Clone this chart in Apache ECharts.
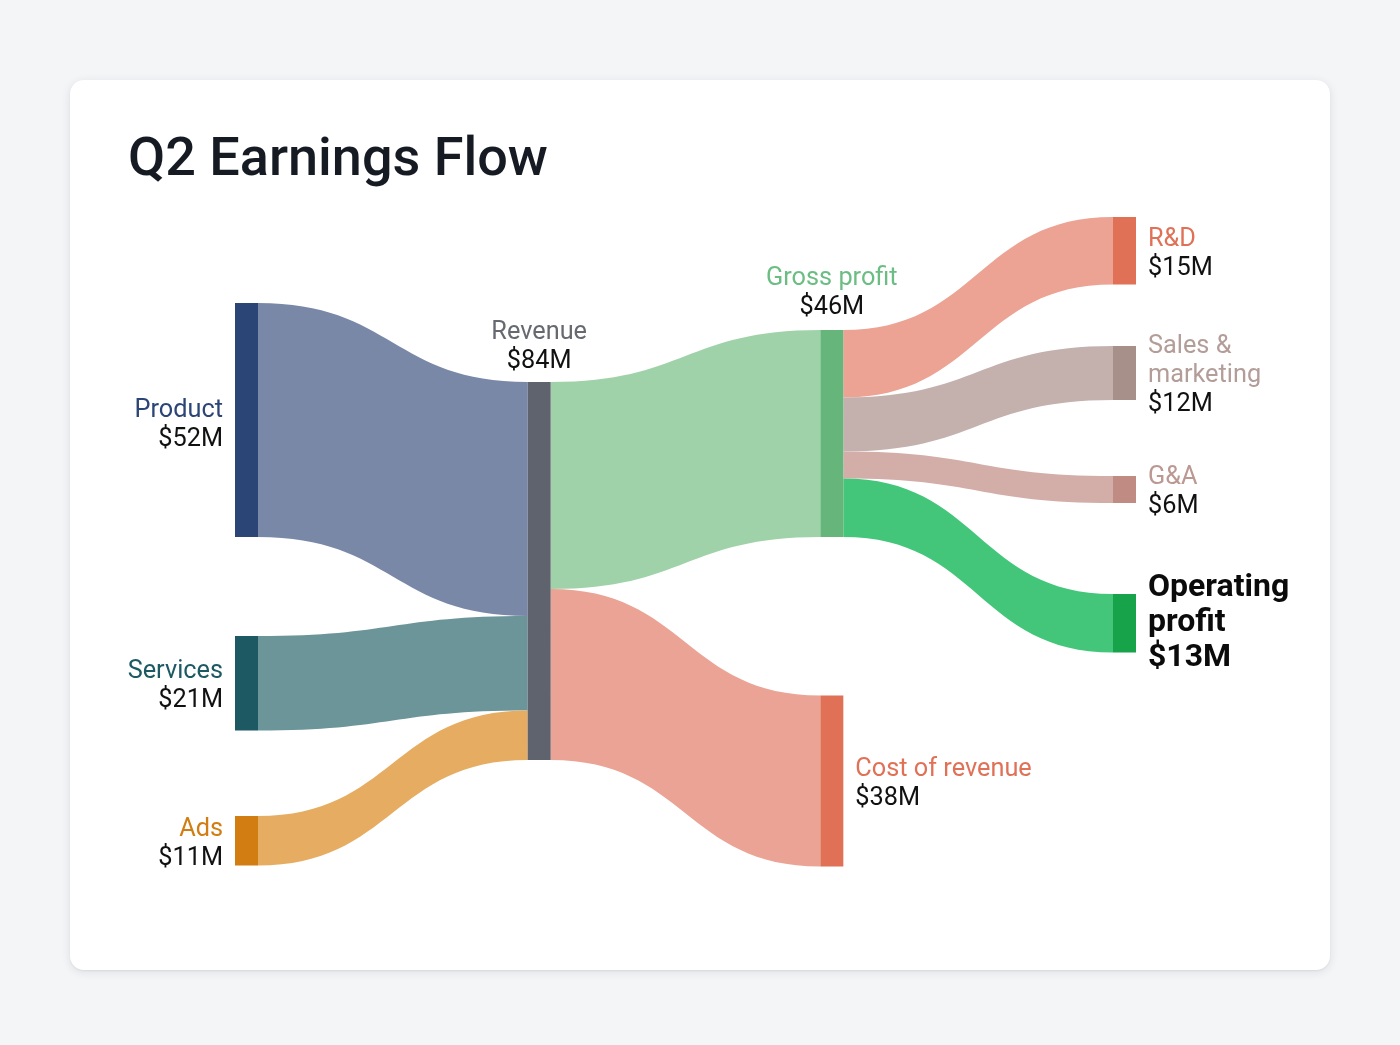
<!DOCTYPE html>
<html>
<head>
<meta charset="utf-8">
<script src="https://cdn.jsdelivr.net/npm/echarts@6/dist/echarts.min.js"></script>
<style>
  html, body { margin: 0; padding: 0; background: #f4f5f7; }
  body { width: 1400px; height: 1045px; position: relative; overflow: hidden; }
  #card {
    position: absolute; left: 70px; top: 80px; width: 1260px; height: 890px;
    background: #ffffff; border-radius: 14px;
    box-shadow: 0 2px 10px rgba(20, 30, 50, 0.10), 0 1px 2px rgba(20,30,50,0.06);
  }
  #chart { width: 1260px; height: 890px; }
</style>
</head>
<body>
<div id="card"><div id="chart"></div></div>
<script>
// ---- data ----
const title = 'Q2 Earnings Flow';
const nodeNames = ['Product', 'Services', 'Ads', 'Revenue', 'Gross profit', 'Cost of revenue',
                   'R&D', 'Sales & marketing', 'G&A', 'Operating profit'];
const linkSources = ['Product', 'Services', 'Ads', 'Revenue', 'Revenue',
                     'Gross profit', 'Gross profit', 'Gross profit', 'Gross profit'];
const linkTargets = ['Revenue', 'Revenue', 'Revenue', 'Gross profit', 'Cost of revenue',
                     'R&D', 'Sales & marketing', 'G&A', 'Operating profit'];
const linkValues = [52, 21, 11, 46, 38, 15, 12, 6, 13];

// ---- styles ----
const nodeColor = {
  'Product': '#2c4577', 'Services': '#1d5962', 'Ads': '#d27d12', 'Revenue': '#5f636e',
  'Gross profit': '#66b67c', 'Cost of revenue': '#e07157', 'R&D': '#e07157',
  'Sales & marketing': '#a78f8a', 'G&A': '#bf8b83', 'Operating profit': '#16a34a'
};
const linkColor = {
  'Product': '#7a88a8', 'Services': '#6b9598', 'Ads': '#e6ad62',
  'Gross profit': '#9fd2a9', 'Cost of revenue': '#eaa394', 'R&D': '#eca394',
  'Sales & marketing': '#c4b1ae', 'G&A': '#d3aea8', 'Operating profit': '#43c67a'
};
const labelColor = {
  'Product': '#2c4577', 'Services': '#1d5962', 'Ads': '#d27d12', 'Revenue': '#666a70',
  'Gross profit': '#6cbd84', 'Cost of revenue': '#e07157', 'R&D': '#e07157',
  'Sales & marketing': '#b39d98', 'G&A': '#bb9891', 'Operating profit': '#0b0b0b'
};
const displayName = { 'Sales & marketing': 'Sales &\nmarketing', 'Operating profit': 'Operating\nprofit' };
const labelPos = {
  'Product': 'left', 'Services': 'left', 'Ads': 'left', 'Revenue': 'top', 'Gross profit': 'top'
};
// layout: node top offsets (px from layout top) and scale
const layoutH = 649;
const ky = 4.5;
const nodeTop = {
  'Product': 86, 'Services': 419, 'Ads': 599, 'Revenue': 165, 'Gross profit': 113,
  'Cost of revenue': 478.5, 'R&D': 0, 'Sales & marketing': 129, 'G&A': 259, 'Operating profit': 377
};
const labelShift = { 'Product': 5, 'Operating profit': 0 };

const FONT = 'Roboto, "Noto Sans", sans-serif';
function richFor(name) {
  return {
    n: { fontFamily: FONT, fontSize: 25.3, lineHeight: 29, color: labelColor[name] },
    v: { fontFamily: FONT, fontSize: 25.3, lineHeight: 29, color: '#111111' },
    b: { fontFamily: FONT, fontSize: 32, lineHeight: 35, fontWeight: 'bold', color: '#0b0b0b' }
  };
}

const nodes = nodeNames.map(function (name) {
  const pos = labelPos[name] || 'right';
  const shift = pos === 'top' ? 0 : (labelShift[name] != null ? labelShift[name] : 3);
  return {
    name: name,
    localY: nodeTop[name] / layoutH,
    itemStyle: { color: nodeColor[name], borderWidth: 0 },
    label: {
      show: true,
      position: pos,
      offset: [0, shift],
      distance: pos === 'top' ? (name === 'Revenue' ? 6 : 8) : 12,
      align: pos === 'left' ? 'right' : (pos === 'top' ? 'center' : 'left'),
      rich: richFor(name)
    }
  };
});

const links = linkValues.map(function (v, i) {
  const s = linkSources[i], t = linkTargets[i];
  const c = t === 'Revenue' ? linkColor[s] : linkColor[t];
  return { source: s, target: t, value: v, lineStyle: { color: c, opacity: 1 } };
});

const chart = echarts.init(document.getElementById('chart'), null, { renderer: 'canvas' });
chart.setOption({
  animation: false,
  title: {
    text: title, left: 53, top: 49,
    textStyle: { fontFamily: FONT, fontSize: 54, fontWeight: 500, color: '#151a23' }
  },
  series: [{
    type: 'sankey',
    left: 165, top: 137, width: 901, height: layoutH,
    nodeWidth: 23,
    nodeGap: (layoutH - 84 * ky) / 2,
    nodeAlign: 'left',
    layoutIterations: 0,
    draggable: false,
    emphasis: { disabled: true },
    data: nodes,
    links: links,
    lineStyle: { curveness: 0.5 },
    label: {
      formatter: function (p) {
        const dn = (displayName[p.name] || p.name).split('\n');
        if (p.name === 'Operating profit') {
          return dn.map(function (s) { return '{b|' + s + '}'; }).join('\n') + '\n{b|$' + p.value + 'M}';
        }
        return dn.map(function (s) { return '{n|' + s + '}'; }).join('\n') + '\n{v|$' + p.value + 'M}';
      }
    }
  }]
});
</script>
</body>
</html>
